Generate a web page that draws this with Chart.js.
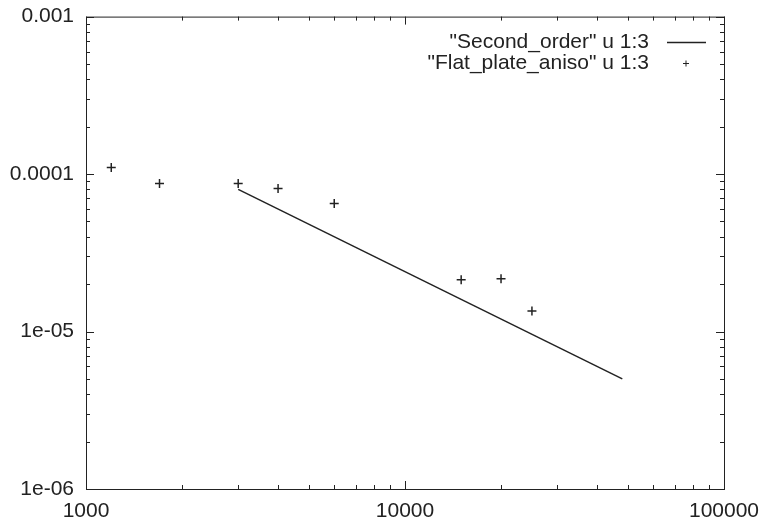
<!DOCTYPE html>
<html>
<head>
<meta charset="utf-8">
<script src="https://cdn.jsdelivr.net/npm/chart.js@4/dist/chart.umd.min.js"></script>
<style>
  html, body { margin: 0; padding: 0; background: #fff; }
  #wrap { width: 763px; height: 524px; }
</style>
</head>
<body>
<div id="wrap"><canvas id="chart"></canvas></div>
<script>
// данные с картинки
const lineX = [3000, 48000];
const lineY = [8.0e-5, 5.0e-6];
const pointsX = [1200, 1700, 3000, 4000, 6000, 15000, 20000, 25000];
const pointsY = [1.1e-4, 8.7e-5, 8.7e-5, 8.1e-5, 6.5e-5, 2.13e-5, 2.16e-5, 1.35e-5];
const seriesNames = ['"Second_order" u 1:3', '"Flat_plate_aniso" u 1:3'];
const xTickValues = [1000, 10000, 100000];
const xTickLabels = ["1000", "10000", "100000"];
const yTickValues = [0.001, 0.0001, 0.00001, 0.000001];
const yTickLabels = ["0.001", "0.0001", "1e-05", "1e-06"];

const ink = "#222";
const font = { family: "'Liberation Sans', Arial, sans-serif", size: 21 };

function decadeTicks(min, max) {
    const out = [];
    for (let d = min; d < max * 1.0001; d *= 10) {
        for (let m = 1; m <= 9; m++) {
            const v = d * m;
            if (v > max * 1.0001) break;
            out.push({ value: v, major: m === 1 });
        }
    }
    return out;
}

// рамка и засечки внутрь, как в gnuplot
const framePlugin = {
    id: "frame",
    afterDatasetsDraw(chart) {
        const { ctx, chartArea: a, scales } = chart;
        ctx.save();
        ctx.strokeStyle = ink;
        ctx.lineWidth = 1;
        ctx.strokeRect(a.left + 0.5, a.top + 0.5, a.right - a.left, a.bottom - a.top);
        ctx.beginPath();
        scales.x.ticks.forEach((t) => {
            const px = Math.round(scales.x.getPixelForValue(t.value)) + 0.5;
            const len = t.major ? 8 : 4;
            ctx.moveTo(px, a.bottom); ctx.lineTo(px, a.bottom - len);
            ctx.moveTo(px, a.top); ctx.lineTo(px, a.top + len);
        });
        scales.y.ticks.forEach((t) => {
            const py = Math.round(scales.y.getPixelForValue(t.value)) + 0.5;
            const len = t.major ? 8 : 4;
            ctx.moveTo(a.left, py); ctx.lineTo(a.left + len, py);
            ctx.moveTo(a.right, py); ctx.lineTo(a.right - len, py);
        });
        ctx.stroke();
        ctx.restore();
    },
};

// легенда: текст справа налево, образец справа
const legendPlugin = {
    id: "gpLegend",
    afterDraw(chart) {
        const { ctx } = chart;
        ctx.save();
        ctx.font = font.size + "px " + font.family;
        ctx.fillStyle = ink;
        ctx.strokeStyle = ink;
        ctx.textAlign = "right";
        ctx.textBaseline = "middle";
        chart.data.datasets.forEach((ds, i) => {
            const y = 42 + i * 21;
            ctx.fillText(ds.label, 649, y);
            ctx.beginPath();
            if (ds.showLine) {
                ctx.lineWidth = 1.5;
                ctx.moveTo(667, y + 0.5); ctx.lineTo(706, y + 0.5);
            } else {
                ctx.lineWidth = 1;
                ctx.moveTo(683, y + 0.5); ctx.lineTo(689, y + 0.5);
                ctx.moveTo(686, y - 2.5); ctx.lineTo(686, y + 3.5);
            }
            ctx.stroke();
        });
        ctx.restore();
    },
};

new Chart(document.getElementById("chart"), {
    type: "scatter",
    data: {
        datasets: [
            {
                label: seriesNames[0],
                data: lineX.map((x, i) => ({ x: x, y: lineY[i] })),
                showLine: true,
                borderColor: ink,
                borderWidth: 1.5,
                pointRadius: 0,
            },
            {
                label: seriesNames[1],
                data: pointsX.map((x, i) => ({ x: x, y: pointsY[i] })),
                showLine: false,
                pointStyle: "cross",
                pointRadius: 4.5,
                borderColor: ink,
                borderWidth: 1.5,
            },
        ],
    },
    options: {
        responsive: true,
        maintainAspectRatio: false,
        animation: false,
        layout: { padding: { top: 5, right: 39, left: 0, bottom: 0 } },
        plugins: {
            legend: { display: false },
            tooltip: { enabled: false },
        },
        scales: {
            x: {
                type: "logarithmic",
                min: 1000,
                max: 100000,
                grid: { display: false },
                border: { display: false },
                afterBuildTicks: (s) => { s.ticks = decadeTicks(1000, 100000); },
                afterFit: (s) => { s.height = 35; },
                ticks: {
                    color: ink,
                    font: font,
                    padding: 2,
                    maxRotation: 0,
                    autoSkip: false,
                    callback: (v) => {
                        const k = xTickValues.findIndex((t) => Math.abs(t - v) / t < 1e-6);
                        return k >= 0 ? xTickLabels[k] : "";
                    },
                },
            },
            y: {
                type: "logarithmic",
                min: 0.000001,
                max: 0.001,
                grid: { display: false },
                border: { display: false },
                afterBuildTicks: (s) => { s.ticks = decadeTicks(0.000001, 0.001); },
                afterFit: (s) => { s.width = 86; },
                ticks: {
                    color: ink,
                    font: font,
                    padding: 4,
                    autoSkip: false,
                    callback: (v) => {
                        const k = yTickValues.findIndex((t) => Math.abs(t - v) / t < 1e-6);
                        return k >= 0 ? yTickLabels[k] : "";
                    },
                },
            },
        },
    },
    plugins: [framePlugin, legendPlugin],
});
</script>
</body>
</html>
